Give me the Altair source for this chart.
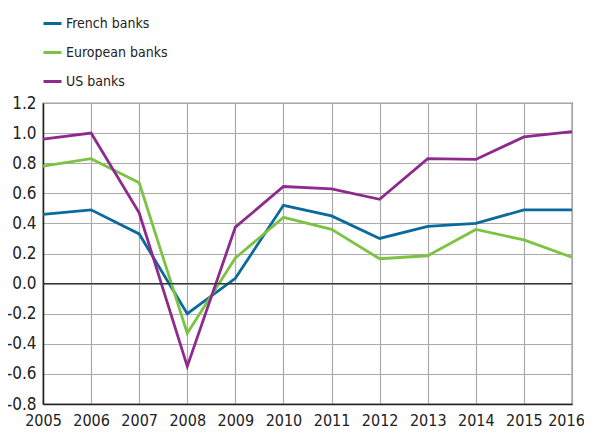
import altair as alt
import pandas as pd

years = [2005, 2006, 2007, 2008, 2009, 2010, 2011, 2012, 2013, 2014, 2015, 2016]
french = [0.46, 0.49, 0.33, -0.20, 0.035, 0.52, 0.45, 0.30, 0.38, 0.40, 0.49, 0.49]
european = [0.78, 0.83, 0.67, -0.33, 0.17, 0.44, 0.36, 0.165, 0.185, 0.36, 0.29, 0.175]
us = [0.96, 1.00, 0.47, -0.55, 0.375, 0.645, 0.63, 0.56, 0.83, 0.825, 0.975, 1.01]
series = ["French banks", "European banks", "US banks"]
colors = ["#0b6a9c", "#7dc242", "#8e2a8e"]
y_ticks = [-0.8, -0.6, -0.4, -0.2, 0.0, 0.2, 0.4, 0.6, 0.8, 1.0, 1.2]

rows = []
for name, vals in zip(series, [french, european, us]):
    for yr, v in zip(years, vals):
        rows.append({"year": yr, "value": v, "series": name})
df = pd.DataFrame(rows)

font = "'DejaVu Sans Condensed', 'Liberation Sans Narrow', Roboto, sans-serif"

yscale = alt.Scale(domain=[-0.8, 1.2], nice=False, zero=False)
yaxis = alt.Axis(values=y_ticks, title=None, grid=True,
                 labelExpr="replace(format(datum.value, '.1f'), '\u2212', '-')",
                 gridColor="#aaaaaa", gridWidth=1.2, tickSize=0,
                 labelPadding=7, labelFontSize=17, labelFont=font,
                 labelColor="#222", domainColor="#222", domainWidth=1.5,
                 labelOverlap=False)

x = alt.X("year:Q",
          scale=alt.Scale(domain=[2005, 2016], nice=False, zero=False),
          axis=alt.Axis(values=years, format="d", title=None, grid=True,
                        gridColor="#aaaaaa", gridWidth=1.2, tickSize=0,
                        labelPadding=8, labelFontSize=16, labelFont=font,
                        labelColor="#222", domainColor="#222", domainWidth=1.5,
                        labelOffset={"condition": {"test": "datum.value == 2016", "value": -6}, "value": 0},
                        labelFlush=False, labelOverlap=False))

lines = alt.Chart(df).mark_line(strokeWidth=2.8).encode(
    x=x, y=alt.Y("value:Q", scale=yscale, axis=yaxis),
    color=alt.Color("series:N",
                    scale=alt.Scale(domain=series, range=colors),
                    sort=series,
                    legend=alt.Legend(title=None, orient="none", legendX=-1, legendY=-90,
                                      symbolType="stroke", symbolSize=324,
                                      symbolStrokeWidth=3, labelFont=font,
                                      labelFontSize=14, labelColor="#222",
                                      labelOffset=3, rowPadding=11, padding=0))
)

zero = alt.Chart(pd.DataFrame({"z": [0.0]})).mark_rule(color="#333", strokeWidth=1.3).encode(
    y=alt.Y("z:Q", scale=yscale, axis=yaxis)
)

chart = alt.layer(lines, zero).properties(
    width=529, height=301,
    autosize=alt.AutoSizeParams(type="none"),
    padding={"left": 35, "top": 95, "right": 12, "bottom": 28},
).configure_view(stroke="#333", strokeWidth=1.2)

chart.save("out.html", embed_options={"renderer": "svg", "actions": False})
